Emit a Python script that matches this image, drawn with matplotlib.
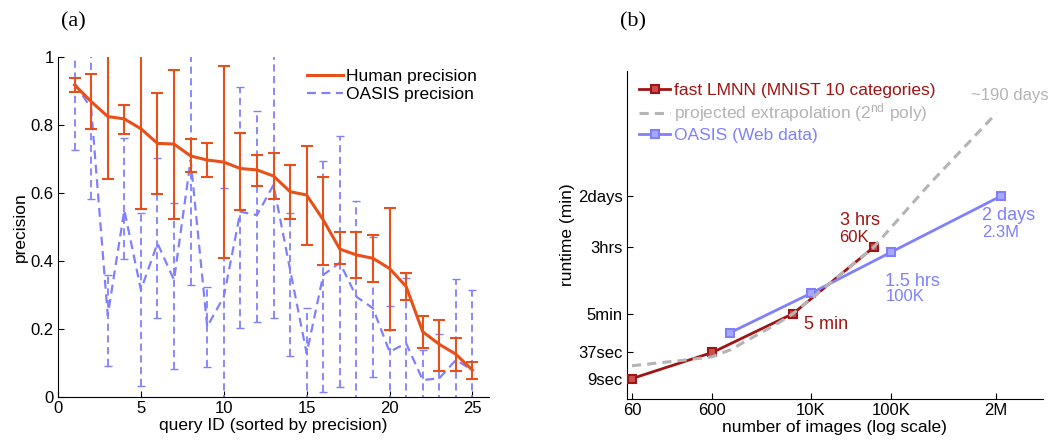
import numpy as np
import matplotlib
matplotlib.use('Agg')
import matplotlib.pyplot as plt
from matplotlib.lines import Line2D

plt.rcParams['font.family'] = ['Liberation Sans', 'DejaVu Sans']
plt.rcParams['mathtext.default'] = 'regular'
plt.rcParams['xtick.direction'] = 'in'
plt.rcParams['ytick.direction'] = 'in'

# (a) precision per query
query_id = np.arange(1, 26)
human = [0.918, 0.869, 0.825, 0.818, 0.789, 0.746, 0.744, 0.709, 0.697, 0.691, 0.672, 0.668, 0.650,
         0.604, 0.594, 0.521, 0.435, 0.418, 0.408, 0.378, 0.325, 0.192, 0.155, 0.126, 0.079]
human_hi = [0.937, 0.949, 1.06, 0.859, 1.06, 0.895, 0.962, 0.758, 0.746, 0.975, 0.777, 0.712, 0.717,
            0.682, 0.739, 0.648, 0.484, 0.486, 0.476, 0.557, 0.366, 0.238, 0.226, 0.173, 0.104]
human_lo = [0.898, 0.787, 0.641, 0.775, 0.552, 0.596, 0.525, 0.662, 0.646, 0.410, 0.550, 0.622, 0.582,
            0.523, 0.447, 0.388, 0.390, 0.351, 0.339, 0.197, 0.284, 0.143, 0.077, 0.077, 0.052]
oasis = [0.923, 0.849, 0.240, 0.550, 0.315, 0.452, 0.344, 0.697, 0.207, 0.295, 0.545, 0.535, 0.624,
         0.374, 0.128, 0.359, 0.395, 0.295, 0.261, 0.133, 0.158, 0.050, 0.055, 0.109, 0.079]
oasis_hi = [1.06, 1.06, 0.358, 0.763, 0.542, 0.702, 0.570, 1.06, 0.323, 0.614, 0.911, 0.841, 1.06,
            0.540, 0.261, 0.694, 0.769, 0.577, 0.470, 0.269, 0.349, 0.138, 0.184, 0.347, 0.315]
oasis_lo = [0.728, 0.582, 0.091, 0.406, 0.032, 0.233, 0.081, 0.330, 0.089, -0.05, 0.204, 0.222, 0.233,
            0.122, -0.05, 0.014, 0.028, -0.05, 0.060, -0.05, -0.05, -0.05, -0.05, -0.05, -0.05]

# (b) runtime vs number of images
lmnn_n = [60, 600, 6000, 60000]
lmnn_t = [0.15, 0.617, 5, 180]
oasis_n = [1000, 10000, 100000, 2300000]
oasis_t = [1.8, 15, 140, 2880]
proj_n = [60, 300, 600, 1000, 3800, 6000, 60000, 300000, 2000000]
proj_t = [0.30, 0.415, 0.49, 0.71, 2.9, 5, 180, 5600, 250000]
ytick_vals = [0.15, 0.617, 5, 180, 2880]
ytick_lbls = ['9sec', '37sec', '5min', '3hrs', '2days']
xtick_vals = [60, 600, 10000, 100000, 2000000]
xtick_lbls = ['60', '600', '10K', '100K', '2M']

orange = '#e8501a'
blue = '#8080ff'
dred = '#a01414'
gray = '#b4b4b4'

fig = plt.figure(figsize=(10.53, 4.4), dpi=100)

# ---- panel (a)
ax = fig.add_axes([0.0551, 0.0977, 0.4093, 0.7727])
hum = np.array(human)
oas = np.array(oasis)
eb = ax.errorbar(query_id, oas, yerr=[oas - np.array(oasis_lo), np.array(oasis_hi) - oas],
                 color=blue, linestyle='--', dashes=(4, 2.5), linewidth=1.6, capsize=3,
                 elinewidth=1.3, zorder=2)
for l in eb[2]:
    l.set_linestyle((0, (4, 2.5)))
ax.errorbar(query_id, hum, yerr=[hum - np.array(human_lo), np.array(human_hi) - hum],
            color=orange, linewidth=2.2, capsize=4.2, elinewidth=1.5, capthick=1.5, zorder=3)
ax.set_xlim(0, 26)
ax.set_ylim(0, 1)
ax.set_xticks([0, 5, 10, 15, 20, 25])
ax.set_yticks([0, 0.2, 0.4, 0.6, 0.8, 1])
ax.set_yticklabels(['0', '0.2', '0.4', '0.6', '0.8', '1'])
ax.tick_params(labelsize=12, length=4, pad=3)
ax.spines['top'].set_visible(False)
ax.spines['right'].set_visible(False)
ax.set_xlabel('query ID (sorted by precision)', fontsize=12.5, labelpad=1)
ax.set_ylabel('precision', fontsize=12.5, labelpad=2)
handles = [Line2D([], [], color=orange, linewidth=2.2),
           Line2D([], [], color=blue, linewidth=1.6, linestyle='--', dashes=(4, 2.5))]
ax.legend(handles, ['Human precision', 'OASIS precision'], loc='upper right',
          bbox_to_anchor=(1.0, 1.0), frameon=False, fontsize=12.5, handlelength=2.1,
          handletextpad=0.15, labelspacing=0.15, borderaxespad=0.3)
fig.text(0.058, 0.972, '(a)', fontsize=16, family='Liberation Serif', va='top')

# ---- panel (b)
bx = fig.add_axes([0.5954, 0.0925, 0.395, 0.7468])
bx.set_xscale('log')
bx.set_yscale('log')
bx.plot(lmnn_n, lmnn_t, color=dred, linewidth=2, marker='s', markersize=6,
        markerfacecolor='#c85050', markeredgecolor=dred, markeredgewidth=1.5,
        label='fast LMNN (MNIST 10 categories)', zorder=3)
bx.plot(proj_n, proj_t, color=gray, linestyle='--', dashes=(3, 2), linewidth=2.2,
        label='projected extrapolation (2$^{nd}$ poly)', zorder=4)
bx.plot(oasis_n, oasis_t, color=blue, linewidth=2, marker='s', markersize=6,
        markerfacecolor='#a8a8ff', markeredgecolor=blue, markeredgewidth=1.5,
        label='OASIS (Web data)', zorder=3)
bx.set_xlim(52, 7.6e6)
bx.set_ylim(0.049, 2.5e6)
bx.set_xticks(xtick_vals)
bx.set_xticklabels(xtick_lbls)
bx.set_yticks(ytick_vals)
bx.set_yticklabels(ytick_lbls)
bx.minorticks_off()
bx.tick_params(labelsize=12, length=4, pad=3)
bx.spines['top'].set_visible(False)
bx.spines['right'].set_visible(False)
bx.set_xlabel('number of images (log scale)', fontsize=12.5, labelpad=1)
bx.set_ylabel('runtime (min)', fontsize=12.5, labelpad=2)
bx.legend(loc='upper left', bbox_to_anchor=(0.0, 1.0), frameon=False, fontsize=12.5,
          handlelength=1.8, handletextpad=0.2, labelspacing=0.2, borderaxespad=0.3,
          labelcolor='linecolor')

k = 0.72  # px -> points
def note(txt, xy, dx, dy, col, fs):
    bx.annotate(txt, xy=xy, xytext=(dx * k, dy * k), textcoords='offset points',
                ha='left', va='center', color=col, fontsize=fs)

note('3 hrs', (lmnn_n[3], lmnn_t[3]), -34, 27, dred, 13)
note('60K', (lmnn_n[3], lmnn_t[3]), -34, 10, dred, 12)
note('5 min', (lmnn_n[2], lmnn_t[2]), 11, -11, dred, 13)
note('1.5 hrs', (oasis_n[2], oasis_t[2]), -6, -30, blue, 13)
note('100K', (oasis_n[2], oasis_t[2]), -6, -45, blue, 12)
note('2 days', (oasis_n[3], oasis_t[3]), -19, -20, blue, 13)
note('2.3M', (oasis_n[3], oasis_t[3]), -19, -37, blue, 12)
note('~190 days', (proj_n[-1], proj_t[-1]), -25, 18, gray, 12)
fig.text(0.589, 0.972, '(b)', fontsize=16, family='Liberation Serif', va='top')

fig.savefig('out.png', dpi=100)
